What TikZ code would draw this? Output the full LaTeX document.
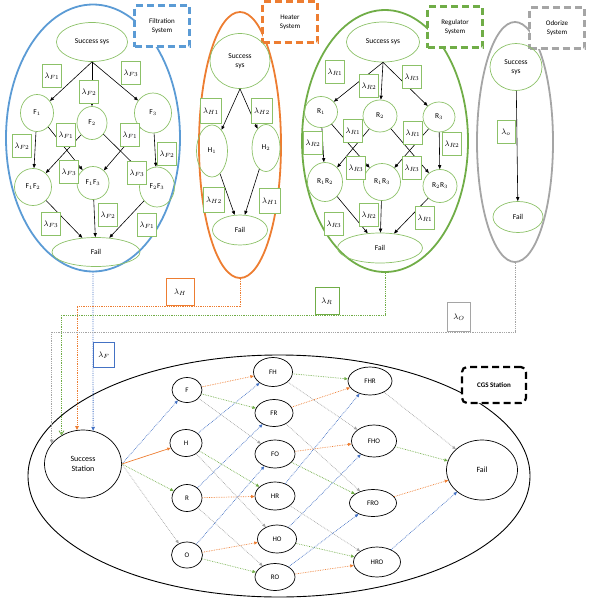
\documentclass[tikz,border=0pt]{standalone}
\usepackage{fontspec}
\setmainfont{Carlito}
\usetikzlibrary{shapes.geometric,arrows.meta}
\definecolor{blu}{HTML}{5B9BD5}
\definecolor{dblu}{HTML}{4472C4}
\definecolor{ora}{HTML}{ED7D31}
\definecolor{grn}{HTML}{70AD47}
\definecolor{lgrn}{HTML}{8CC168}
\definecolor{gry}{HTML}{A5A5A5}

\begin{document}
\begin{tikzpicture}[x=1pt,y=-1pt,
  sys/.style={ellipse,draw=#1,line width=1.8pt,inner sep=0pt},
  tag/.style={draw=#1,line width=2.2pt,dash pattern=on 7pt off 4pt,fill=white,align=center,
    minimum width=55,minimum height=41,inner sep=1pt,font=\fontsize{7}{9}\selectfont},
  st/.style={ellipse,draw=lgrn,line width=0.7pt,inner sep=0pt,align=center,font=\fontsize{7.5}{9}\selectfont},
  lb/.style={draw=#1,line width=0.7pt,fill=white,inner sep=0pt,minimum width=19,minimum height=23,font=\fontsize{8}{9}\selectfont},
  lb/.default=lgrn,
  ar/.style={-{Triangle[length=4pt,width=3.2pt]},line width=0.6pt},
  nd/.style={ellipse,draw,line width=0.7pt,inner sep=0pt,font=\fontsize{7}{8}\selectfont,align=center},
  fl/.style={draw=#1,densely dotted,line width=0.7pt,-{Triangle[length=3.5pt,width=3pt]}},
  hl/.style={draw=#1,densely dotted,line width=0.8pt,-{Triangle[length=4pt,width=3.5pt]}}]
\useasboundingbox (0,0) rectangle (593,600);

% filtration system
\node[sys=blu,minimum width=174,minimum height=267] (filt) at (93,138) {};
\node[tag=blu] (filttag) at (162,26) {Filtration\\System};
\node[st,minimum width=71,minimum height=39] (fs) at (92,42) {Success sys};
\node[st,minimum width=33,minimum height=37] (f1) at (37,113) {F$_1$};
\node[st,minimum width=30,minimum height=33] (f2) at (92,123) {F$_2$};
\node[st,minimum width=37,minimum height=40] (f3) at (153,113) {F$_3$};
\node[st,minimum width=37,minimum height=37] (f12) at (33,187) {F$_1$F$_2$};
\node[st,minimum width=32,minimum height=33] (f13) at (93,183) {F$_1$F$_3$};
\node[st,minimum width=35,minimum height=40] (f23) at (157,187) {F$_2$F$_3$};
\node[st,minimum width=88,minimum height=29] (ffail) at (96,252) {Fail};
\foreach \a/\b in {fs.south/f1,fs.south/f2,fs.south/f3,f1/f12,f1/f13,f2/f12,f2/f23,f3/f13,f3/f23,f12/ffail,f13/ffail,f23/ffail}
  \draw[ar] (\a) -- (\b);
\foreach \x/\y/\t in {52/76/F1,89/92/F2,131/73/F3,66/135/F1,130/135/F1,22/146/F2,167/154/F2,69/172/F3,137/173/F3,51/224/F3,108/215/F2,147/225/F1}
  \node[lb] at (\x,\y) {$\lambda_{\t}$};

% heater system
\node[sys=ora,minimum width=82,minimum height=266] (heat) at (240,145) {};
\node[tag=ora] (heattag) at (290,22) {Heater\\System};
\node[st,minimum width=60,minimum height=55] (hs) at (240,61) {Success\\sys};
\node[st,minimum width=31,minimum height=52] (h1) at (212,151) {H$_1$};
\node[st,minimum width=28,minimum height=47] (h2) at (266,148) {H$_2$};
\node[st,minimum width=55,minimum height=30] (hfail) at (240,230) {Fail};
\foreach \a/\b in {hs.south/h1,hs.south/h2,h1/hfail,h2/hfail}
  \draw[ar] (\a) -- (\b);
\foreach \x/\y/\t in {211/111/H1,262/111/H2,214/200/H2,270/201/H1}
  \node[lb,minimum width=21,minimum height=25] at (\x,\y) {$\lambda_{\t}$};

% regulator system
\node[sys=grn,minimum width=166,minimum height=262] (reg) at (385,141) {};
\node[tag=grn] (regtag) at (455,27) {Regulator\\System};
\node[st,minimum width=73,minimum height=40] (rs) at (383,42) {Success sys};
\node[st,minimum width=33,minimum height=31] (r1) at (321,112) {R$_1$};
\node[st,minimum width=34,minimum height=32] (r2) at (380,116) {R$_2$};
\node[st,minimum width=32,minimum height=30] (r3) at (439,117) {R$_3$};
\node[st,minimum width=35,minimum height=39] (r12) at (325,182) {R$_1$R$_2$};
\node[st,minimum width=37,minimum height=37] (r13) at (382,182) {R$_1$R$_3$};
\node[st,minimum width=34,minimum height=33] (r23) at (440,186) {R$_2$R$_3$};
\node[st,minimum width=85,minimum height=30] (rfail) at (380,248) {Fail};
\foreach \a/\b in {rs.south/r1,rs.south/r2,rs.south/r3,r1/r12,r1/r13,r2/r12,r2/r23,r3/r13,r3/r23,r12/rfail,r13/rfail,r23/rfail}
  \draw[ar] (\a) -- (\b);
\foreach \x/\y/\t in {335/72/R1,369/86/R2,412/77/R3,353/131/R1,413/133/R1,313/143/R2,452/144/R2,356/168/R3,412/168/R3,334/224/R3,369/215/R2,425/218/R1}
  \node[lb] at (\x,\y) {$\lambda_{\t}$};

% odorize system
\node[sys=gry,minimum width=76,minimum height=240] (odo) at (515,142) {};
\node[tag=gry] (odotag) at (557,28) {Odorize\\System};
\node[st,minimum width=52,minimum height=47] (os) at (516,67) {Success\\sys};
\node[st,minimum width=50,minimum height=31] (ofail) at (518,217) {Fail};
\draw[ar] (os) -- (ofail);
\node[lb,minimum width=18] at (506,132) {$\lambda_o$};

% CGS station
\node[ellipse,draw,line width=0.9pt,minimum width=502,minimum height=242] (cgs) at (279,476) {};
\node[draw,line width=2.2pt,dash pattern=on 7pt off 4pt,rounded corners=5pt,fill=white,
  minimum width=64,minimum height=36,font=\bfseries\fontsize{7}{8}\selectfont] (cgstag) at (494,385) {CGS Station};
\node[nd,minimum width=77,minimum height=68,font=\fontsize{8}{9.5}\selectfont] (ss) at (83,464) {Success\\Station};
\node[nd,minimum width=30,minimum height=25] (f) at (187,390) {F};
\node[nd,minimum width=32,minimum height=27] (h) at (186,443) {H};
\node[nd,minimum width=30,minimum height=27] (r) at (187,498) {R};
\node[nd,minimum width=31,minimum height=26] (o) at (187,555) {O};
\node[nd,minimum width=39,minimum height=29] (fh) at (273,372) {FH};
\node[nd,minimum width=38,minimum height=27] (fr) at (274,413) {FR};
\node[nd,minimum width=40,minimum height=28] (fo) at (275,454) {FO};
\node[nd,minimum width=40,minimum height=28] (hr) at (275,496) {HR};
\node[nd,minimum width=39,minimum height=28] (ho) at (277,539) {HO};
\node[nd,minimum width=40,minimum height=27] (ro) at (275,577) {RO};
\node[nd,minimum width=44,minimum height=28] (fhr) at (370,381) {FHR};
\node[nd,minimum width=45,minimum height=32] (fho) at (374,441) {FHO};
\node[nd,minimum width=47,minimum height=27] (fro) at (373,503) {FRO};
\node[nd,minimum width=47,minimum height=30] (hro) at (377,562) {HRO};
\node[nd,minimum width=71,minimum height=60,font=\fontsize{8}{9}\selectfont] (sfail) at (482,470) {Fail};

\draw[fl=dblu] (ss.east) -- (f);
\draw[fl=ora,solid] (ss.east) -- (h);
\draw[fl=grn] (ss.east) -- (r);
\draw[fl=gry] (ss.east) -- (o);
\foreach \a/\b/\c in {f/fh/ora,f/fr/grn,f/fo/gry,h/fh/dblu,h/hr/grn,h/ho/gry,r/fr/dblu,r/hr/ora,r/ro/gry,o/fo/dblu,o/ho/ora,o/ro/grn,
  fh/fhr/grn,fh/fho/gry,fr/fhr/ora,fr/fro/gry,fo/fho/ora,fo/fro/grn,hr/fhr/dblu,hr/hro/gry,ho/fho/dblu,ho/hro/grn,ro/fro/dblu,ro/hro/ora,
  fhr/sfail/gry,fho/sfail/grn,fro/sfail/ora,hro/sfail/dblu}
  \draw[fl=\c] (\a) -- (\b);

% subsystems into station
\draw[hl=dblu] (filt.south) -- (ss.73);
\draw[hl=ora] (heat.south) -- ++(0,27) -| (ss.100);
\draw[hl=grn,-{Straight Barb[length=4pt,width=5pt]}] (reg.south) -- ++(0,42) -| (ss.127);
\draw[hl=gry] (odo.south) -- ++(0,69) -| (ss.147);
\node[lb=dblu,minimum width=21,minimum height=25] (lf) at (104,355) {$\lambda_F$};
\node[lb=ora,minimum width=28,minimum height=27] (lh) at (180,292) {$\lambda_H$};
\node[lb=grn,minimum width=24,minimum height=27] (lr) at (327,301) {$\lambda_R$};
\node[lb=gry,minimum width=23,minimum height=29] (lo) at (459,317) {$\lambda_O$};
\end{tikzpicture}
\end{document}
